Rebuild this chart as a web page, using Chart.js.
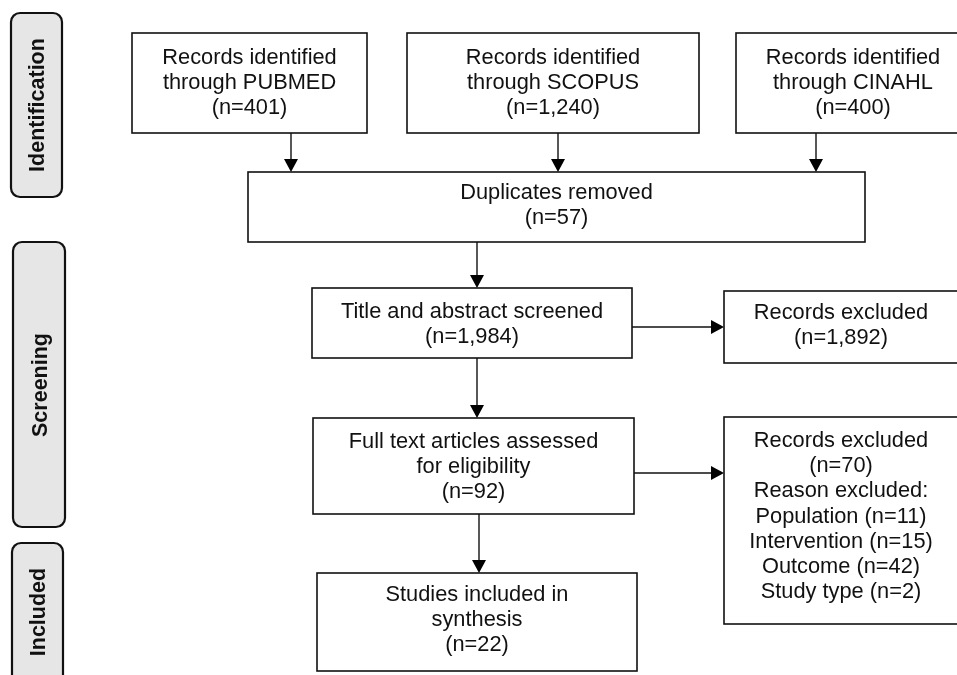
<!DOCTYPE html>
<html>
<head>
<meta charset="utf-8">
<script src="https://cdn.jsdelivr.net/npm/chart.js@4"></script>
<style>
html,body{margin:0;padding:0;background:#fff;overflow:hidden;}
#wrap{width:957px;height:675px;}
</style>
</head>
<body>
<div id="wrap"><canvas id="c" width="957" height="675"></canvas></div>
<script>
// ---- data ----
const stages = ['Identification', 'Screening', 'Included'];
const sources = ['PUBMED', 'SCOPUS', 'CINAHL'];
const sourceCounts = [401, 1240, 400];
const duplicatesRemoved = 57;
const screenedCount = 1984;
const screenExcluded = 1892;
const fullTextCount = 92;
const fullTextExcluded = 70;
const reasons = ['Population', 'Intervention', 'Outcome', 'Study type'];
const reasonCounts = [11, 15, 42, 2];
const includedCount = 22;

const fmt = n => '(n=' + n.toLocaleString('en-US') + ')';

// ---- layout (in axis units) ----
const stageBoxes = [[11, 13, 62, 197], [13, 242, 65, 527], [12, 543, 63, 690]];
const stageTextCenter = [105, 385, 612];
const sourceBoxes = [[132, 33, 367, 133], [407, 33, 699, 133], [736, 33, 970, 133]];
const sourceArrowX = [291, 558, 816];
const dupBox = [248, 172, 865, 242];
const screenBox = [312, 288, 632, 358];
const excl1Box = [724, 291, 958, 363];
const fullBox = [313, 418, 634, 514];
const excl2Box = [724, 417, 958, 624];
const inclBox = [317, 573, 637, 671];

const FONT = '"Liberation Sans", Arial, sans-serif';

const flowPlugin = {
  id: 'flow',
  afterDraw(chart) {
    const ctx = chart.ctx;
    const xs = chart.scales.x, ys = chart.scales.y;
    const X = v => xs.getPixelForValue(v);
    const Y = v => ys.getPixelForValue(v);
    ctx.save();
    function rect(b) {
      ctx.lineWidth = 1.6;
      ctx.strokeStyle = '#111';
      ctx.strokeRect(X(b[0]), Y(b[1]), X(b[2]) - X(b[0]), Y(b[3]) - Y(b[1]));
    }
    function text(b, lines, lh, dy) {
      ctx.fillStyle = '#111';
      ctx.font = '21.8px ' + FONT;
      ctx.textAlign = 'center';
      ctx.textBaseline = 'middle';
      const cx = (X(b[0]) + X(b[2])) / 2;
      const cy = (Y(b[1]) + Y(b[3])) / 2 + (dy || 0);
      const n = lines.length;
      lines.forEach((t, i) => {
        ctx.fillText(t, cx, cy + (i - (n - 1) / 2) * lh);
      });
    }
    function box(b, lines, dy) { rect(b); text(b, lines, 25.3, dy); }
    function arrowDown(x, y0, y1) {
      ctx.strokeStyle = '#111'; ctx.lineWidth = 1.4;
      ctx.beginPath(); ctx.moveTo(X(x), Y(y0)); ctx.lineTo(X(x), Y(y1) - 12); ctx.stroke();
      ctx.fillStyle = '#000';
      ctx.beginPath(); ctx.moveTo(X(x) - 7, Y(y1) - 13); ctx.lineTo(X(x) + 7, Y(y1) - 13); ctx.lineTo(X(x), Y(y1)); ctx.closePath(); ctx.fill();
    }
    function arrowRight(y, x0, x1) {
      ctx.strokeStyle = '#111'; ctx.lineWidth = 1.4;
      ctx.beginPath(); ctx.moveTo(X(x0), Y(y)); ctx.lineTo(X(x1) - 12, Y(y)); ctx.stroke();
      ctx.fillStyle = '#000';
      ctx.beginPath(); ctx.moveTo(X(x1) - 13, Y(y) - 7); ctx.lineTo(X(x1) - 13, Y(y) + 7); ctx.lineTo(X(x1), Y(y)); ctx.closePath(); ctx.fill();
    }
    // stage labels
    stages.forEach((s, i) => {
      const b = stageBoxes[i];
      const x0 = X(b[0]), y0 = Y(b[1]), w = X(b[2]) - x0, h = Y(b[3]) - y0;
      ctx.beginPath();
      ctx.roundRect(x0, y0, w, h, 9);
      ctx.fillStyle = '#e6e6e6';
      ctx.fill();
      ctx.lineWidth = 2.2;
      ctx.strokeStyle = '#111';
      ctx.stroke();
      ctx.save();
      ctx.translate(x0 + w / 2 + 1, Y(stageTextCenter[i]));
      ctx.rotate(-Math.PI / 2);
      ctx.fillStyle = '#111';
      ctx.font = 'bold 21.5px ' + FONT;
      ctx.textAlign = 'center';
      ctx.textBaseline = 'middle';
      ctx.fillText(s, 0, 1);
      ctx.restore();
    });
    // source boxes
    sources.forEach((s, i) => {
      const b = sourceBoxes[i];
      box(b, ['Records identified', 'through ' + s, fmt(sourceCounts[i])]);
      arrowDown(sourceArrowX[i], b[3], dupBox[1]);
    });
    box(dupBox, ['Duplicates removed', fmt(duplicatesRemoved)], -1.5);
    arrowDown(477, dupBox[3], screenBox[1]);
    box(screenBox, ['Title and abstract screened', fmt(screenedCount)], 1.5);
    arrowRight(327, screenBox[2], excl1Box[0]);
    box(excl1Box, ['Records excluded', fmt(screenExcluded)], -1.5);
    arrowDown(477, screenBox[3], fullBox[1]);
    box(fullBox, ['Full text articles assessed', 'for eligibility', fmt(fullTextCount)], 1);
    arrowRight(473, fullBox[2], excl2Box[0]);
    const reasonLines = reasons.map((r, i) => r + ' ' + fmt(reasonCounts[i]));
    box(excl2Box, ['Records excluded', fmt(fullTextExcluded), 'Reason excluded:'].concat(reasonLines), -4);
    arrowDown(479, fullBox[3], inclBox[1]);
    box(inclBox, ['Studies included in', 'synthesis', fmt(includedCount)], -2);
    ctx.restore();
  }
};

new Chart(document.getElementById('c'), {
  type: 'scatter',
  data: { datasets: [{ data: [], pointRadius: 0 }] },
  options: {
    responsive: false,
    animation: false,
    devicePixelRatio: 1,
    layout: { padding: 0 },
    plugins: { legend: { display: false }, tooltip: { enabled: false } },
    scales: {
      x: { type: 'linear', min: 0, max: 957, display: false },
      y: { type: 'linear', min: 0, max: 675, reverse: true, display: false }
    }
  },
  plugins: [flowPlugin]
});
</script>
</body>
</html>
